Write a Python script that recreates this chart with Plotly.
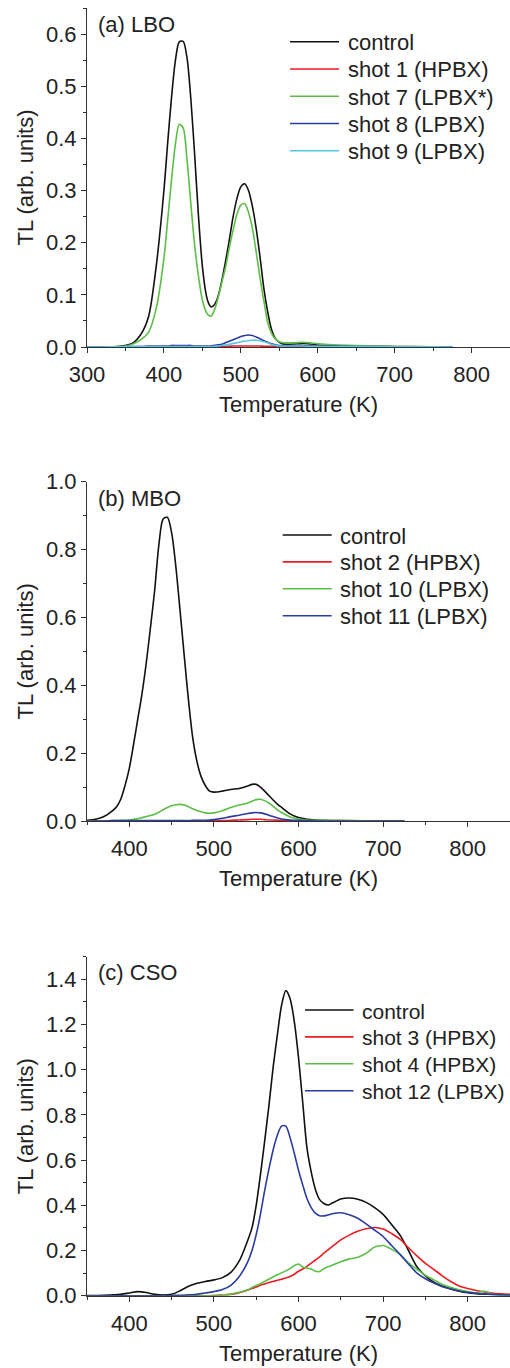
import plotly.graph_objects as go

# ---------------- data ----------------
# (a) LBO
T_lbo = [300, 320, 340, 350, 360, 370, 380, 390, 400, 405, 410, 415, 420, 425, 430, 435, 440, 445,
         450, 455, 458, 461, 465, 470, 475, 480, 485, 490, 495, 500, 505, 510, 515, 520, 525, 530,
         535, 540, 545, 550, 555, 560, 570, 580, 590, 600, 620, 650, 700, 750, 775]
lbo_control = [0, 0, 0.001, 0.003, 0.008, 0.024, 0.058, 0.155, 0.30, 0.393, 0.48, 0.55, 0.585, 0.586,
               0.555, 0.476, 0.368, 0.25, 0.155, 0.10, 0.084, 0.077, 0.08, 0.095, 0.125, 0.163, 0.205,
               0.25, 0.285, 0.307, 0.313, 0.30, 0.27, 0.227, 0.172, 0.112, 0.067, 0.033, 0.016, 0.009,
               0.006, 0.005, 0.006, 0.007, 0.006, 0.005, 0.003, 0.002, 0.001, 0.0005, 0]
lbo_shot1 = [0, 0, 0, 0, 0, 0, 0, 0, 0, 0, 0, 0, 0, 0, 0, 0, 0, 0.0005,
             0.0005, 0.0005, 0.0005, 0.0005, 0.001, 0.001, 0.001, 0.0015, 0.0015, 0.002, 0.002, 0.002,
             0.002, 0.002, 0.002, 0.002, 0.002, 0.0015, 0.0015, 0.0015, 0.001, 0.001, 0.001, 0.001,
             0.001, 0.001, 0.001, 0.001, 0.0008, 0.0005, 0.0002, None, None]
lbo_shot7 = [0, 0, 0.001, 0.002, 0.006, 0.014, 0.028, 0.074, 0.17, 0.245, 0.322, 0.39, 0.427, 0.42,
             0.36, 0.275, 0.195, 0.135, 0.09, 0.067, 0.061, 0.059, 0.068, 0.092, 0.122, 0.152, 0.19,
             0.224, 0.255, 0.272, 0.275, 0.258, 0.228, 0.182, 0.132, 0.088, 0.047, 0.026, 0.015, 0.01,
             0.008, 0.008, 0.008, 0.009, 0.008, 0.006, 0.004, 0.003, 0.001, None, None]
lbo_shot8 = [0, 0, 0.0005, 0.001, 0.001, 0.001, 0.002, 0.002, 0.002, 0.002, 0.003, 0.003, 0.003, 0.003,
             0.003, 0.003, 0.002, 0.002, 0.002, 0.002, 0.002, 0.002, 0.003, 0.004, 0.005, 0.008, 0.011,
             0.014, 0.017, 0.02, 0.022, 0.023, 0.022, 0.019, 0.016, 0.012, 0.009, 0.006, 0.004, 0.003,
             0.003, 0.003, 0.003, 0.003, 0.002, 0.002, 0.002, 0.001, 0.0005, 0.0002, 0]
lbo_shot9 = [0, 0, 0.0005, 0.0005, 0.001, 0.001, 0.001, 0.001, 0.001, 0.001, 0.001, 0.001, 0.001, 0.001,
             0.001, 0.001, 0.001, 0.001, 0.001, 0.001, 0.001, 0.001, 0.001, 0.002, 0.003, 0.004, 0.005,
             0.007, 0.008, 0.01, 0.011, 0.012, 0.013, 0.013, 0.012, 0.01, 0.008, 0.005, 0.003, 0.002,
             0.002, 0.002, 0.002, 0.002, 0.001, 0.001, 0.001, 0.001, 0.0005, 0.0002, 0]

# (b) MBO
T_mbo = [350, 360, 370, 380, 385, 390, 395, 400, 405, 410, 415, 420, 425, 430, 435, 440, 445, 450,
         455, 460, 465, 470, 475, 480, 485, 490, 495, 500, 510, 520, 530, 540, 545, 550, 555, 560,
         565, 570, 575, 580, 590, 600, 610, 620, 650, 700, 725]
mbo_control = [0.002, 0.005, 0.013, 0.03, 0.042, 0.065, 0.105, 0.155, 0.225, 0.30, 0.375, 0.465, 0.57,
               0.68, 0.815, 0.89, 0.895, 0.85, 0.75, 0.62, 0.485, 0.355, 0.245, 0.175, 0.13, 0.104,
               0.088, 0.085, 0.088, 0.093, 0.096, 0.103, 0.108, 0.108, 0.10, 0.088, 0.075, 0.062, 0.05,
               0.04, 0.021, 0.01, 0.005, 0.003, 0.001, 0.0005, 0]
mbo_shot2 = [0, 0, 0, 0, 0, 0, 0, 0, 0, 0, 0, 0, 0, 0, 0, 0, 0, 0,
             0, 0, 0, 0, 0, 0, 0, 0, 0.0005, 0.001, 0.001, 0.002, 0.003, 0.004, 0.005, 0.005, 0.005,
             0.004, 0.003, 0.003, 0.002, 0.002, 0.001, 0, 0, 0, 0, 0, 0]
mbo_shot10 = [0, 0, 0, 0.001, 0.001, 0.002, 0.002, 0.003, 0.005, 0.007, 0.01, 0.013, 0.016, 0.02, 0.026,
              0.033, 0.04, 0.045, 0.048, 0.049, 0.047, 0.042, 0.036, 0.031, 0.027, 0.024, 0.023, 0.024,
              0.03, 0.04, 0.047, 0.053, 0.058, 0.063, 0.064, 0.06, 0.053, 0.044, 0.033, 0.025, 0.012,
              0.006, 0.003, 0.002, 0.001, 0, 0]
mbo_shot11 = [0, 0, 0, 0.001, 0.001, 0.001, 0.001, 0.001, 0.001, 0.001, 0.001, 0.001, 0.001, 0.001,
              0.001, 0.001, 0.001, 0.001, 0.001, 0.001, 0.001, 0.001, 0.002, 0.002, 0.002, 0.002, 0.003,
              0.004, 0.008, 0.013, 0.017, 0.022, 0.024, 0.025, 0.024, 0.021, 0.017, 0.013, 0.009, 0.006,
              0.003, 0.002, 0.001, 0, 0, 0, 0]

# (c) CSO
T_cso = [350, 370, 390, 400, 410, 420, 430, 440, 450, 460, 470, 480, 490, 500, 510, 520, 530, 540,
         545, 550, 555, 560, 565, 570, 575, 580, 585, 590, 595, 600, 605, 610, 615, 620, 625, 630,
         635, 640, 650, 660, 670, 680, 690, 700, 710, 720, 730, 740, 750, 760, 770, 780, 790, 800,
         810, 820, 830, 840, 850]
cso_control = [0.001, 0.002, 0.006, 0.012, 0.018, 0.014, 0.006, 0.003, 0.006, 0.022, 0.042, 0.055,
               0.063, 0.07, 0.08, 0.103, 0.154, 0.245, 0.30, 0.40, 0.535, 0.684, 0.84, 1.01, 1.154,
               1.285, 1.35, 1.315, 1.214, 1.054, 0.855, 0.654, 0.548, 0.47, 0.425, 0.408, 0.401, 0.41,
               0.428, 0.432, 0.427, 0.413, 0.39, 0.36, 0.315, 0.268, 0.20, 0.128, 0.088, 0.06, 0.043,
               0.03, 0.02, 0.013, 0.009, 0.007, 0.005, 0.004, 0.003]
cso_shot3 = [0, 0, 0, 0, 0, 0, 0, 0, 0, 0, 0, 0, 0, 0.001, 0.003, 0.006, 0.013, 0.025,
             0.032, 0.038, 0.046, 0.052, 0.058, 0.063, 0.068, 0.073, 0.078, 0.085, 0.095, 0.108, 0.118,
             0.13, 0.144, 0.158, 0.172, 0.188, 0.203, 0.218, 0.247, 0.268, 0.285, 0.296, 0.302, 0.295,
             0.275, 0.25, 0.212, 0.176, 0.143, 0.116, 0.088, 0.063, 0.043, 0.032, 0.023, 0.016, 0.011,
             0.008, 0.006]
cso_shot4 = [0, 0, 0, 0, 0, 0, 0, 0, 0, 0, 0, 0, 0, 0.001, 0.003, 0.007, 0.015, 0.026,
             0.036, 0.045, 0.053, 0.063, 0.073, 0.083, 0.093, 0.101, 0.11, 0.12, 0.133, 0.14, 0.127,
             0.122, 0.118, 0.108, 0.107, 0.12, 0.128, 0.135, 0.15, 0.163, 0.17, 0.188, 0.215, 0.222,
             0.205, 0.183, 0.145, 0.117, 0.09, 0.07, 0.05, 0.037, 0.026, 0.018, 0.013, 0.02, 0.006,
             0.004, 0.002]
cso_shot12 = [0, 0, 0, 0, 0, 0, 0, 0, 0.001, 0.002, 0.004, 0.006, 0.012, 0.018, 0.027, 0.046, 0.085,
              0.15, 0.20, 0.27, 0.36, 0.465, 0.56, 0.645, 0.71, 0.75, 0.75, 0.70, 0.63, 0.555, 0.49,
              0.43, 0.39, 0.365, 0.354, 0.353, 0.357, 0.363, 0.367, 0.358, 0.343, 0.318, 0.29, 0.262,
              0.222, 0.183, 0.14, 0.10, 0.075, 0.056, 0.04, 0.03, 0.021, 0.015, 0.011, 0.008, 0.006,
              0.004, 0.003]

labels_a = ["control", "shot 1 (HPBX)", "shot 7 (LPBX*)", "shot 8 (LPBX)", "shot 9 (LPBX)"]
labels_b = ["control", "shot 2 (HPBX)", "shot 10 (LPBX)", "shot 11 (LPBX)"]
labels_c = ["control", "shot 3 (HPBX)", "shot 4 (HPBX)", "shot 12 (LPBX)"]

# ---------------- styling ----------------
W, H = 510, 1368
ML, MB = 87, 60
PH = H - MB  # plot-area height in px
FONT = "Liberation Sans, Arial, Helvetica, sans-serif"
FS = 22
AXC = "#333333"
TXT = "#222222"
C_BLACK = "#111111"
C_RED = "#ec1c24"
C_GREEN = "#5cbf45"
C_BLUE = "#2b3c9e"
C_CYAN = "#55c8e8"

def px_x(p):
    return (p - ML) / (W - ML)

def px_y(p):
    return 1 - p / PH

fig = go.Figure()

panels = [
    ("x", "y", T_lbo, [lbo_control, lbo_shot1, lbo_shot7, lbo_shot8, lbo_shot9],
     [C_BLACK, C_RED, C_GREEN, C_BLUE, C_CYAN], labels_a),
    ("x2", "y2", T_mbo, [mbo_control, mbo_shot2, mbo_shot10, mbo_shot11],
     [C_BLACK, C_RED, C_GREEN, C_BLUE], labels_b),
    ("x3", "y3", T_cso, [cso_control, cso_shot3, cso_shot4, cso_shot12],
     [C_BLACK, C_RED, C_GREEN, C_BLUE], labels_c),
]
for xa, ya, T, series, colors, labels in panels:
    for s, c, lab in zip(series, colors, labels):
        fig.add_trace(go.Scatter(x=T, y=s, mode="lines", name=lab, xaxis=xa, yaxis=ya,
                                 line=dict(color=c, width=1.6, shape="spline", smoothing=0.8),
                                 showlegend=False, connectgaps=False, hoverinfo="skip"))

def xaxis(rng, anchor, t0):
    return dict(range=rng, dtick=100, tick0=t0, ticks="outside", ticklen=5, tickwidth=1,
                tickcolor=AXC, showline=True, linecolor=AXC, linewidth=1, showgrid=False,
                zeroline=False, anchor=anchor, domain=[0, 1], ticklabelstandoff=3, automargin=False,
                minor=dict(dtick=50, tick0=t0, ticks="outside", ticklen=3, tickcolor=AXC, showgrid=False),
                tickfont=dict(family=FONT, size=FS, color=TXT),
                title=dict(text="Temperature (K)", font=dict(family=FONT, size=FS, color=TXT), standoff=10))

def yaxis(rng, dtick, anchor, dom):
    return dict(range=rng, dtick=dtick, tick0=0, tickformat=".1f", ticks="outside", ticklen=5,
                tickwidth=1, tickcolor=AXC, showline=True, linecolor=AXC, linewidth=1, showgrid=False,
                zeroline=False, anchor=anchor, domain=dom, automargin=False,
                minor=dict(dtick=dtick / 2, ticks="outside", ticklen=3, tickcolor=AXC, showgrid=False),
                tickfont=dict(family=FONT, size=FS, color=TXT),
                title=dict(text="TL (arb. units)", font=dict(family=FONT, size=FS, color=TXT), standoff=6))

dom_a = [px_y(347), px_y(8)]
dom_b = [px_y(821), px_y(481.7)]
dom_c = [px_y(1295.7), px_y(956.7)]

fig.update_layout(
    template="none",
    width=W, height=H, margin=dict(l=ML, r=0, t=0, b=MB, autoexpand=False),
    paper_bgcolor="white", plot_bgcolor="white", showlegend=False,
    font=dict(family=FONT, size=FS, color=TXT),
    xaxis=xaxis([300, 850], "y", 300), yaxis=yaxis([0, 0.65], 0.1, "x", dom_a),
    xaxis2=xaxis([350, 850], "y2", 400), yaxis2=yaxis([0, 1.0], 0.2, "x2", dom_b),
    xaxis3=xaxis([350, 850], "y3", 400), yaxis3=yaxis([0, 1.5], 0.2, "x3", dom_c),
)

# panel labels
for txt, y in [("(a) LBO", 25), ("(b) MBO", 498), ("(c) CSO", 972)]:
    fig.add_annotation(text=txt, xref="paper", yref="paper", x=px_x(96), y=px_y(y),
                       xanchor="left", yanchor="middle", showarrow=False,
                       font=dict(family=FONT, size=FS, color=TXT))

# legends (sample line + label)
legends = [
    (labels_a, [C_BLACK, C_RED, C_GREEN, C_BLUE, C_CYAN], 290, 339, 345.5, 41.7, 27.25, FS),
    (labels_b, [C_BLACK, C_RED, C_GREEN, C_BLUE], 282.7, 331.7, 337.7, 535, 26.9, FS),
    (labels_c, [C_BLACK, C_RED, C_GREEN, C_BLUE], 305, 353.5, 360, 1010, 26.9, 21),
]
for labs, cols, lx0, lx1, tx, y0, dy, fs in legends:
    for i, (lab, col) in enumerate(zip(labs, cols)):
        yy = y0 + i * dy
        fig.add_shape(type="line", xref="paper", yref="paper", x0=px_x(lx0), x1=px_x(lx1),
                      y0=px_y(yy), y1=px_y(yy), line=dict(color=col, width=1.6))
        fig.add_annotation(text=lab, xref="paper", yref="paper", x=px_x(tx), y=px_y(yy + 1),
                           xanchor="left", yanchor="middle", showarrow=False,
                           font=dict(family=FONT, size=fs, color=TXT))

fig.write_html("out.html", config={"displayModeBar": False},
               post_script="document.body.style.margin='0';")
